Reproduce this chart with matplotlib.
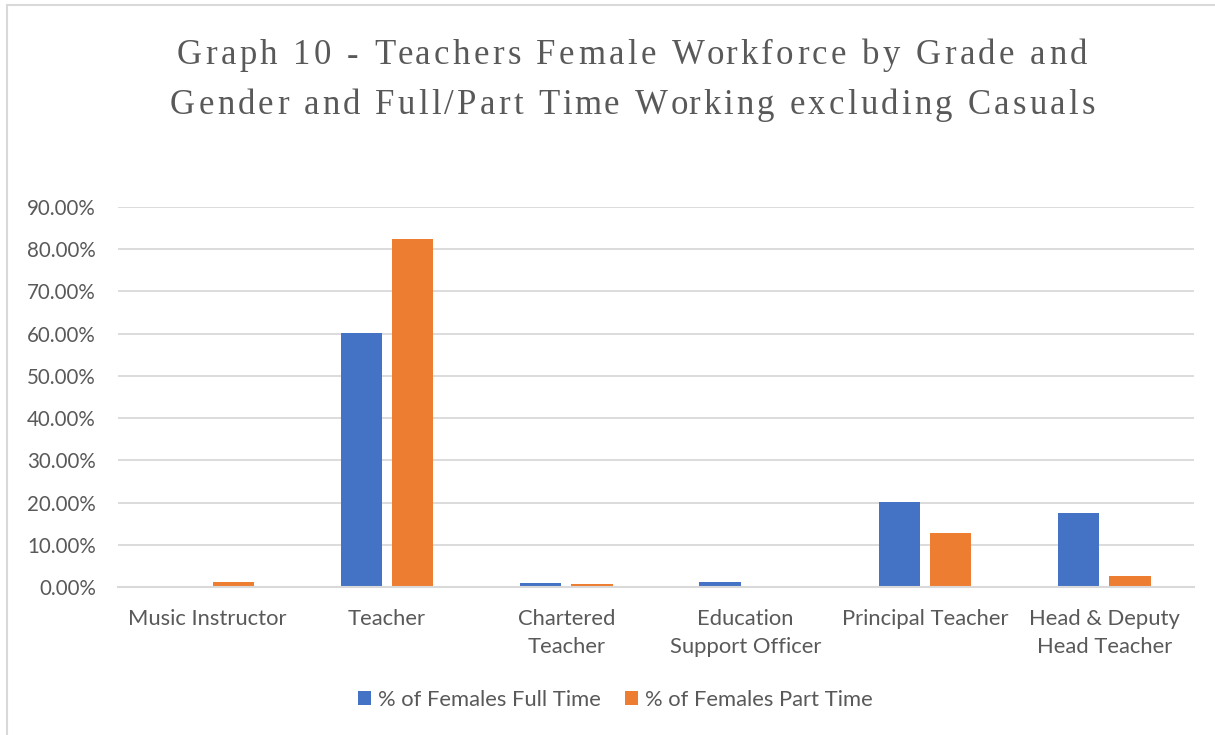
import numpy as np
import matplotlib.pyplot as plt
from matplotlib.patches import Rectangle
from matplotlib.font_manager import FontProperties

# data
categories = ['Music Instructor', 'Teacher', 'Chartered\nTeacher',
              'Education\nSupport Officer', 'Principal Teacher',
              'Head & Deputy\nHead Teacher']
full_time = [0.0, 60.1, 0.95, 1.2, 20.1, 17.5]
part_time = [1.2, 82.4, 0.7, 0.0, 12.9, 2.6]
yticks = [0, 10, 20, 30, 40, 50, 60, 70, 80, 90]
title_lines = ['Graph 10 - Teachers Female Workforce by Grade and',
               'Gender and Full/Part Time Working excluding Casuals']

blue = '#4472C4'
orange = '#ED7D31'
grey_text = '#595959'
grid_col = '#D9D9D9'

plt.rcParams['font.family'] = ['Lato', 'DejaVu Sans']

fig = plt.figure(figsize=(12.15, 7.35), dpi=100)
ax = fig.add_axes([118 / 1215, 1 - 587 / 735, (1194 - 118) / 1215, (587 - 207) / 735])

x = np.arange(len(categories))
w = 0.229
ax.bar(x - 0.143, full_time, w, color=blue, label='% of Females Full Time', zorder=3)
ax.bar(x + 0.143, part_time, w, color=orange, label='% of Females Part Time', zorder=3)

ax.set_xlim(-0.5, len(categories) - 0.5)
ax.set_ylim(0, 90)
ax.set_yticks(yticks)
ax.set_yticklabels(['%.2f%%' % v for v in yticks])
ax.set_xticks(x)
ax.set_xticklabels(categories, linespacing=1.5)
ax.tick_params(axis='both', length=0, labelcolor=grey_text)
ax.tick_params(axis='x', pad=16, labelsize=15.8)
ax.tick_params(axis='y', pad=16, labelsize=14.8)
ax.grid(axis='y', color=grid_col, linewidth=1.3, zorder=0)
for s in ['top', 'right', 'left']:
    ax.spines[s].set_visible(False)
ax.spines['bottom'].set_color(grid_col)
ax.spines['bottom'].set_linewidth(1.5)
ax.spines['bottom'].set_zorder(4)

# title with wide letter spacing, placed one character at a time
renderer = fig.canvas.get_renderer()
tprop = FontProperties(family='Liberation Serif', size=25)


def text_w(s):
    # width in pixels, trailing spaces included
    wx, _, _ = renderer.get_text_width_height_descent(s + 'x', tprop, ismath=False)
    wxx, _, _ = renderer.get_text_width_height_descent('x', tprop, ismath=False)
    return wx - wxx


for line, (left, right, yc) in zip(title_lines, [(177, 1087, 56), (170, 1095, 106)]):
    base = text_w(line)
    extra = (right - left - base) / (len(line) - 1)
    for i, ch in enumerate(line):
        px = left + text_w(line[:i]) + i * extra
        fig.text(px / 1215, 1 - yc / 735, ch, ha='left', va='center',
                 fontproperties=tprop, color=grey_text)

fig.legend(loc='center', bbox_to_anchor=(0.5065, 1 - 700 / 735), ncol=2,
           frameon=False, fontsize=15.8, labelcolor=grey_text,
           handlelength=0.6, handleheight=0.6, handletextpad=0.3,
           columnspacing=1.1)

fig.patches.append(Rectangle((7 / 1215, -0.1), 1.2, 1 - 5 / 735 + 0.1,
                             transform=fig.transFigure, fill=False,
                             edgecolor=grid_col, linewidth=1.5))

fig.savefig('out.png', dpi=100, facecolor='white')
